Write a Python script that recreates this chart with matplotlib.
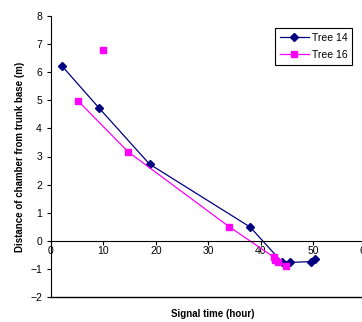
import matplotlib.pyplot as plt

plt.rcParams['font.family'] = ['Liberation Sans', 'DejaVu Sans']

# Tree 14 (connected line)
t14_time = [2.1, 9.1, 18.8, 38.0, 44.0, 45.6, 49.7, 50.4]
t14_dist = [6.22, 4.74, 2.73, 0.49, -0.74, -0.77, -0.74, -0.66]

# Tree 16 (connected line) plus one unconnected point
t16_time = [5.1, 14.7, 34.0, 42.6, 42.7, 43.4, 44.8]
t16_dist = [4.99, 3.17, 0.50, -0.59, -0.67, -0.74, -0.89]
t16_extra_time = [9.9]
t16_extra_dist = [6.80]

fig = plt.figure(figsize=(3.62, 3.22), dpi=100)
ax = fig.add_axes([51 / 362, 25 / 322, 314.4 / 362, 281 / 322])

ax.plot(t14_time, t14_dist, color='#000080', lw=0.9, marker='D', ms=4,
        label='Tree 14', clip_on=False)
ax.plot(t16_time, t16_dist, color='#FF00FF', lw=0.9, marker='s', ms=4.5,
        label='Tree 16', clip_on=False)
ax.plot(t16_extra_time, t16_extra_dist, ls='none', color='#FF00FF',
        marker='s', ms=4.5, clip_on=False)

ax.set_xlim(0, 60)
ax.set_ylim(-2, 8)
ax.set_xticks(range(0, 61, 10))
ax.set_yticks(range(-2, 9, 1))

ax.spines['top'].set_visible(False)
ax.spines['right'].set_visible(False)
ax.spines['bottom'].set_position(('data', 0))
ax.spines['bottom'].set_linewidth(0.8)
ax.spines['left'].set_linewidth(0.8)
ax.axhline(-2, color='black', lw=1.0, clip_on=False)

ax.tick_params(axis='both', labelsize=7.5, direction='out', length=3,
               width=0.8, colors='black')
ax.tick_params(axis='x', pad=1)

ax.set_ylabel('Distance of chamber from trunk base (m)', fontsize=7,
              fontweight='bold', labelpad=4)
fig.text(213 / 362, 1 - 314 / 322, 'Signal time (hour)', fontsize=7,
         fontweight='bold', ha='center', va='center')

leg = ax.legend(loc='upper left', bbox_to_anchor=(224 / 314.4, 1 - 12 / 281),
                fontsize=7.5, frameon=True, fancybox=False, edgecolor='black',
                framealpha=1, borderpad=0.45, handlelength=2.8,
                handletextpad=0.3, labelspacing=0.7, borderaxespad=0)
leg.get_frame().set_linewidth(0.8)

fig.savefig('out.png', dpi=100)
